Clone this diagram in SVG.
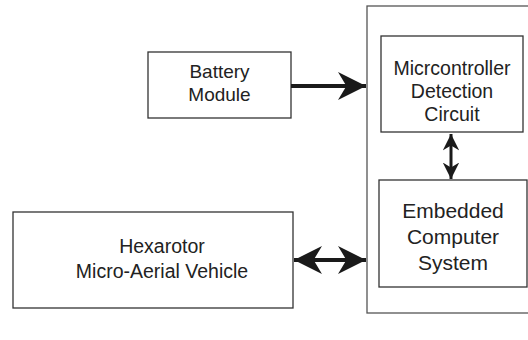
<svg xmlns="http://www.w3.org/2000/svg" width="528" height="340" viewBox="0 0 528 340">
<defs>
<style>
.box{fill:#fff;stroke:#333;stroke-width:1.3}
.outer{fill:none;stroke:#555;stroke-width:1.3}
text{font-family:"Liberation Sans",Arial,sans-serif;fill:#222;text-anchor:middle}
.con{stroke:#1a1a1a;stroke-width:4;fill:none}
</style>
<marker id="ah" viewBox="0 0 10 10" refX="10" refY="5" markerWidth="7" markerHeight="7.5" markerUnits="strokeWidth" orient="auto-start-reverse">
<path d="M0,0 L10,5 L0,10 L3,5 Z" fill="#1a1a1a"/>
</marker>
<marker id="ahv" viewBox="0 0 10 10" refX="10" refY="5" markerWidth="5.5" markerHeight="5.5" markerUnits="strokeWidth" orient="auto-start-reverse">
<path d="M0,0 L10,5 L0,10 L3,5 Z" fill="#1a1a1a"/>
</marker>
</defs>
<rect width="528" height="340" fill="#fff"/>
<g id="system">
<rect class="outer" x="367" y="6" width="170" height="307"/>
</g>
<g id="battery">
<rect class="box" x="148" y="52" width="143" height="66"/>
<text x="219.5" y="78" font-size="19">Battery</text>
<text x="219.5" y="101" font-size="19">Module</text>
</g>
<g id="micro">
<rect class="box" x="381" y="36" width="142" height="96"/>
<text x="452" y="75" font-size="19.5">Micrcontroller</text>
<text x="452" y="98" font-size="19.5">Detection</text>
<text x="452" y="121" font-size="19.5">Circuit</text>
</g>
<g id="embedded">
<rect class="box" x="379" y="180" width="148" height="107"/>
<text x="453" y="218" font-size="21">Embedded</text>
<text x="453" y="244" font-size="21">Computer</text>
<text x="453" y="270" font-size="21">System</text>
</g>
<g id="hexarotor">
<rect class="box" x="13" y="212" width="280" height="96"/>
<text x="162" y="253" font-size="19.5">Hexarotor</text>
<text x="162" y="278" font-size="19.5">Micro-Aerial Vehicle</text>
</g>
<g id="connectors">
<line class="con" x1="291" y1="86" x2="366" y2="86" marker-end="url(#ah)"/>
<line class="con" x1="294" y1="260" x2="366" y2="260" marker-start="url(#ah)" marker-end="url(#ah)"/>
<line class="con" style="stroke-width:3" x1="451" y1="134" x2="451" y2="179" marker-start="url(#ahv)" marker-end="url(#ahv)"/>
</g>
</svg>
